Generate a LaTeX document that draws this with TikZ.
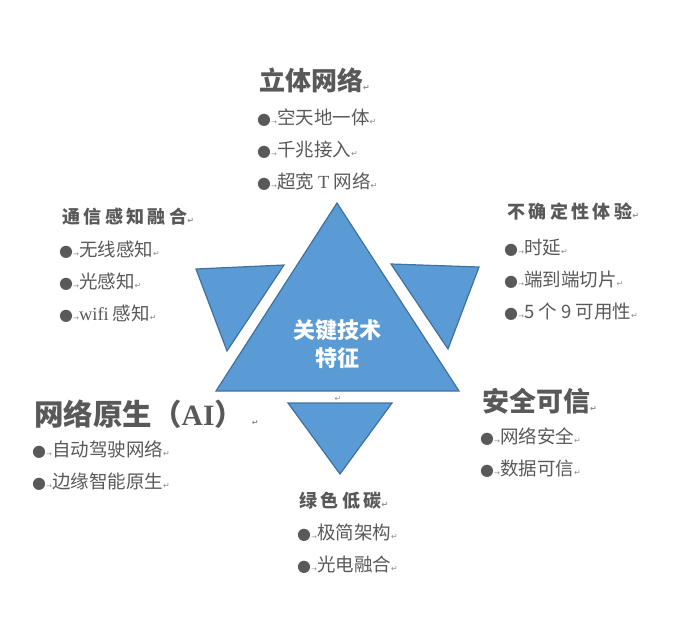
\documentclass[tikz,border=0pt]{standalone}
\usepackage{fontspec}
\setmainfont{Noto Sans CJK SC}
\newfontfamily\latinserif{Liberation Serif}
\newfontfamily\markfont{DejaVu Sans}
\usetikzlibrary{positioning}
\definecolor{triblue}{HTML}{5B9BD5}
\definecolor{triedge}{HTML}{41719C}
\definecolor{textgrey}{HTML}{595959}
\definecolor{markgrey}{HTML}{8C8C8C}
\newcommand{\parmark}{{\markfont\fontsize{8}{8}\selectfont\color{markgrey}↵}}
\newcommand{\bulletitem}[1]{{\markfont\fontsize{16}{16}\selectfont ●}{\markfont\fontsize{7}{7}\selectfont\color{markgrey}→}#1\parmark}

\begin{document}
\begin{tikzpicture}[
    x=1pt, y=-1pt,
    node distance=16pt,
    every node/.style={text=textgrey, inner sep=0pt},
    tri/.style={fill=triblue, draw=triedge, line width=1.2pt},
    bigtitle/.style={anchor=west, font=\fontsize{26}{30}\selectfont\bfseries},
    subtitle/.style={anchor=west, font=\fontsize{18}{22}\selectfont\bfseries\addfontfeature{LetterSpace=19}},
    item/.style={anchor=west, font=\fontsize{18.5}{21}\selectfont, text height=14pt, text depth=2pt}
]
\useasboundingbox (0,0) rectangle (690,637);

% Triangles
\draw[tri] (216,391) -- (337,203) -- (459,391) -- cycle;
\draw[tri] (196,269) -- (284,265) -- (227,351) -- cycle;
\draw[tri] (391,264) -- (479,267) -- (448,349) -- cycle;
\draw[tri] (288,403) -- (392,403) -- (340,474) -- cycle;

% Centre
\node[text=white, align=center, font=\fontsize{22}{28}\selectfont\bfseries] (core) at (337,344) {关键技术\\特征\rlap{\parmark}};
\node (coremark) at (338,399) {\parmark};

% Top
\node[bigtitle] (space) at (259,80) {立体网络\parmark};
\node[item] (space1) at (257,118) {\bulletitem{空天地一体}};
\node[item, below=of space1.south west, anchor=north west] (space2) {\bulletitem{千兆接入}};
\node[item, below=of space2.south west, anchor=north west] (space3) {\bulletitem{超宽 {\latinserif T} 网络}};

% Left
\node[subtitle] (sense) at (62,217) {通信感知融合\parmark};
\node[item] (sense1) at (59,250) {\bulletitem{无线感知}};
\node[item, below=of sense1.south west, anchor=north west] (sense2) {\bulletitem{光感知}};
\node[item, below=of sense2.south west, anchor=north west] (sense3) {\bulletitem{{\latinserif wifi} 感知}};

% Right
\node[subtitle] (exp) at (507,212) {不确定性体验\parmark};
\node[item] (exp1) at (504,248) {\bulletitem{时延}};
\node[item, below=of exp1.south west, anchor=north west] (exp2) {\bulletitem{端到端切片}};
\node[item, below=of exp2.south west, anchor=north west] (exp3) {\bulletitem{5 个 9 可用性}};

% Lower left
\node[bigtitle, font=\fontsize{29.5}{33}\selectfont\bfseries] (native) at (34,414) {网络原生（{\latinserif AI}）\hspace{8pt}\parmark};
\node[item] (native1) at (32,450) {\bulletitem{自动驾驶网络}};
\node[item, below=of native1.south west, anchor=north west] (native2) {\bulletitem{边缘智能原生}};

% Lower right
\node[bigtitle, font=\fontsize{27}{31}\selectfont\bfseries] (safe) at (482,401) {安全可信\parmark};
\node[item] (safe1) at (480,437) {\bulletitem{网络安全}};
\node[item, below=of safe1.south west, anchor=north west] (safe2) {\bulletitem{数据可信}};

% Bottom
\node[subtitle] (green) at (299,501) {绿色低碳\parmark};
\node[item] (green1) at (297,533) {\bulletitem{极简架构}};
\node[item, below=of green1.south west, anchor=north west] (green2) {\bulletitem{光电融合}};

\end{tikzpicture}
\end{document}
